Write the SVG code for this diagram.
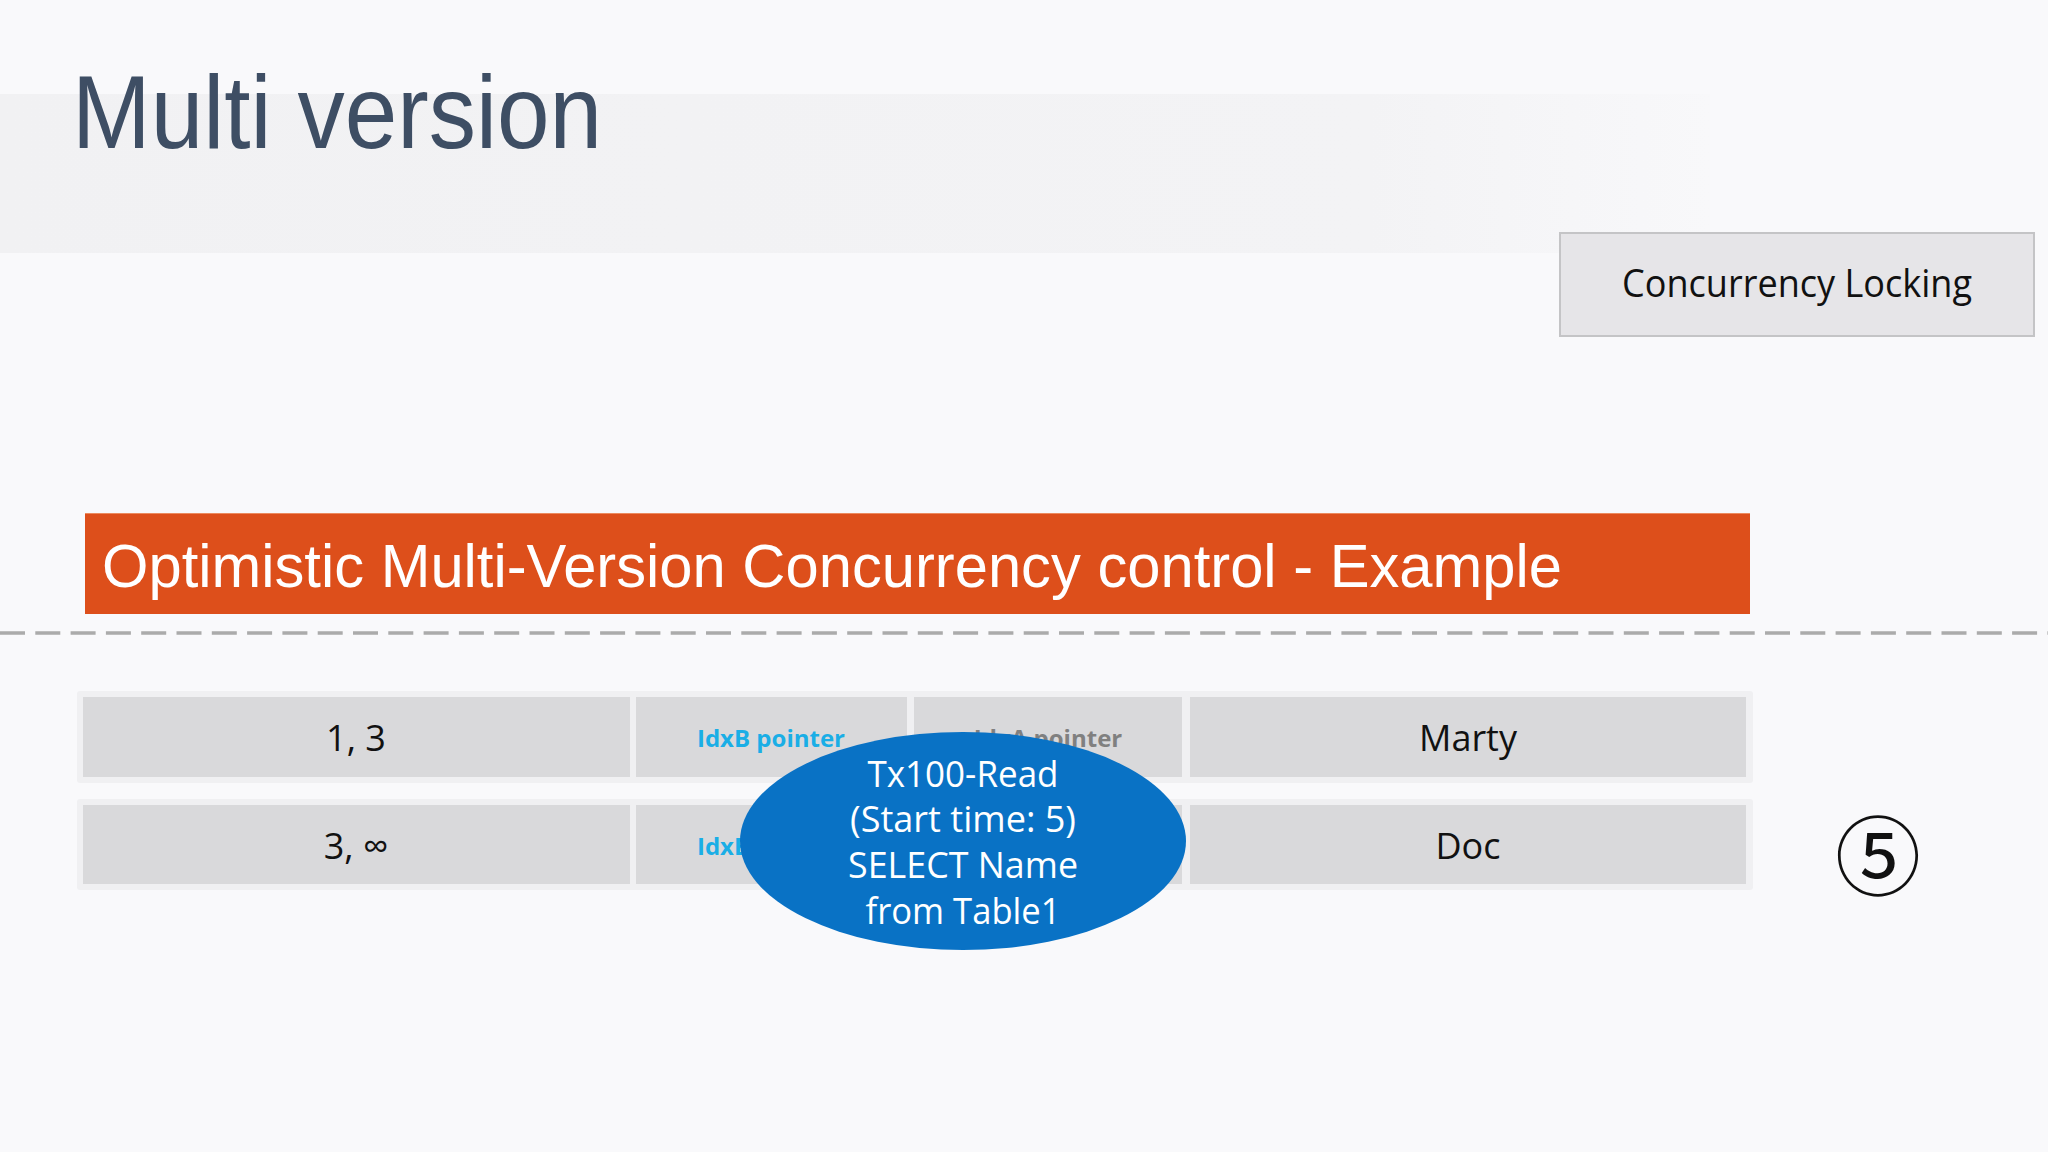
<svg xmlns="http://www.w3.org/2000/svg" width="2048" height="1152" viewBox="0 0 2048 1152">
  <defs>
    <linearGradient id="bandGrad" x1="0" y1="0" x2="1" y2="0">
      <stop offset="0" stop-color="#f1f1f3"/>
      <stop offset="0.8" stop-color="#f3f3f5"/>
      <stop offset="1" stop-color="#f8f8fa"/>
    </linearGradient>
    <style>
      .frame { fill: #f0f0f2; }
      .cell { fill: #d9d9db; }
      .cellText { font-family: "Open Sans", "Noto Sans", "DejaVu Sans", sans-serif; font-size: 36px; fill: #111111; text-anchor: middle; }
      .ptrB { font-family: "Open Sans", "Noto Sans", sans-serif; font-size: 24px; font-weight: bold; fill: #1aaee6; text-anchor: middle; }
      .ptrA { font-family: "Open Sans", "Noto Sans", sans-serif; font-size: 24px; font-weight: bold; fill: #808080; text-anchor: middle; }
      .bubbleText { font-family: "Open Sans", "Noto Sans", sans-serif; font-size: 36px; fill: #ffffff; text-anchor: middle; }
    </style>
  </defs>

  <!-- background -->
  <rect x="0" y="0" width="2048" height="1152" fill="#f9f9fb"/>
  <rect x="0" y="94" width="1710" height="159" fill="url(#bandGrad)"/>

  <g id="title">
    <text x="72" y="148" font-family="Liberation Sans, Arial, sans-serif" font-size="103" fill="#3e4e64" textLength="530" lengthAdjust="spacingAndGlyphs">Multi version</text>
  </g>

  <g id="concurrency-locking">
    <rect x="1560" y="233" width="474" height="103" fill="#e6e5e8" stroke="#c4c4c6" stroke-width="2"/>
    <text x="1797" y="297" font-family="Open Sans, Noto Sans, sans-serif" font-size="39" fill="#111111" text-anchor="middle" textLength="350" lengthAdjust="spacingAndGlyphs">Concurrency Locking</text>
  </g>

  <g id="banner">
    <rect x="85" y="513" width="1665" height="101" fill="#dd4f1b"/>
    <line x1="85" y1="513.5" x2="1750" y2="513.5" stroke="#ec8a5e" stroke-width="1"/>
    <text x="102" y="587" font-family="Liberation Sans, Arial, sans-serif" font-size="61" fill="#ffffff" textLength="1460" lengthAdjust="spacingAndGlyphs">Optimistic Multi-Version Concurrency control - Example</text>
  </g>

  <g id="connectors">
    <line x1="0" y1="633" x2="2048" y2="633" stroke="#ababab" stroke-width="3.5" stroke-dasharray="25 10.3"/>
  </g>

  <g id="row1">
    <rect class="frame" x="77" y="691" width="1676" height="92" rx="3"/>
    <rect class="cell" x="83" y="697" width="547" height="80"/>
    <rect class="cell" x="636" y="697" width="271" height="80"/>
    <rect class="cell" x="914" y="697" width="268" height="80"/>
    <rect class="cell" x="1190" y="697" width="556" height="80"/>
    <text class="cellText" x="356" y="751">1, 3</text>
    <text class="ptrB" x="771" y="747">IdxB pointer</text>
    <text class="ptrA" x="1048" y="747">IdxA pointer</text>
    <text class="cellText" x="1468" y="751">Marty</text>
  </g>

  <g id="row2">
    <rect class="frame" x="77" y="799" width="1676" height="91" rx="3"/>
    <rect class="cell" x="83" y="805" width="547" height="79"/>
    <rect class="cell" x="636" y="805" width="271" height="79"/>
    <rect class="cell" x="914" y="805" width="268" height="79"/>
    <rect class="cell" x="1190" y="805" width="556" height="79"/>
    <text class="cellText" x="356" y="859">3, ∞</text>
    <text class="ptrB" x="771" y="855">IdxB pointer</text>
    <text class="cellText" x="1468" y="859">Doc</text>
  </g>

  <g id="tx100-read">
    <ellipse cx="963" cy="841" rx="223" ry="109" fill="#0972c5"/>
    <text class="bubbleText" x="963" y="787" textLength="191" lengthAdjust="spacingAndGlyphs">Tx100-Read</text>
    <text class="bubbleText" x="963" y="832" textLength="226" lengthAdjust="spacingAndGlyphs">(Start time: 5)</text>
    <text class="bubbleText" x="963" y="878" textLength="230" lengthAdjust="spacingAndGlyphs">SELECT Name</text>
    <text class="bubbleText" x="963" y="924" textLength="195" lengthAdjust="spacingAndGlyphs">from Table1</text>
  </g>

  <g id="step-5">
    <text x="1878" y="889" font-family="DejaVu Serif, Noto Sans CJK JP, serif" font-size="86" fill="#111111" text-anchor="middle">⑤</text>
  </g>
</svg>
